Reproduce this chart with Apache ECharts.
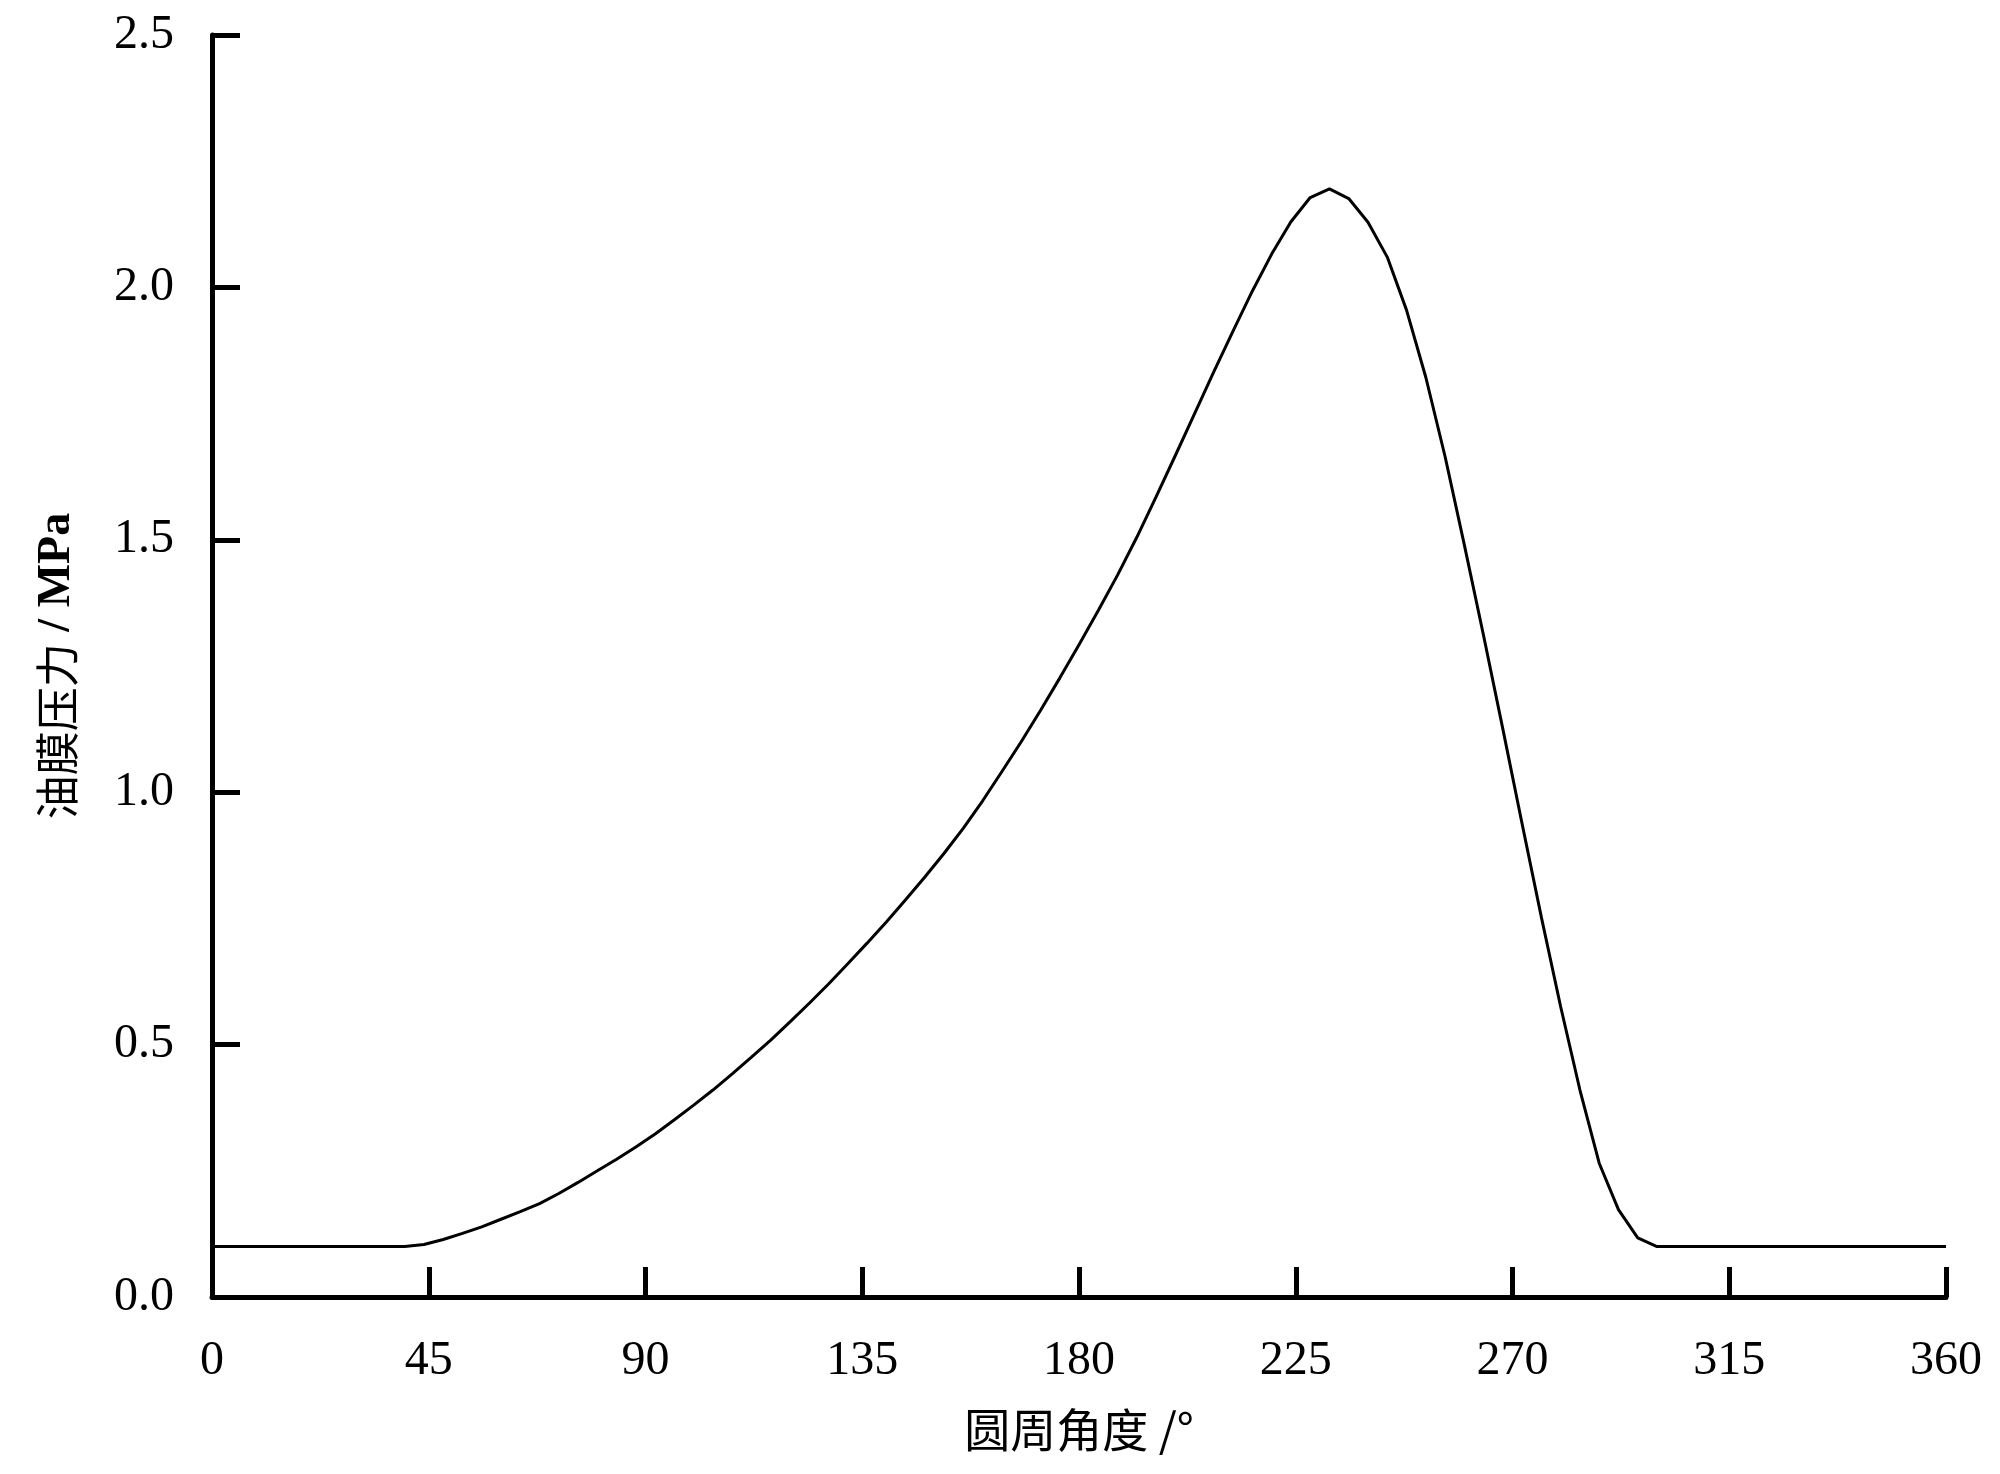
<!DOCTYPE html>
<html>
<head>
<meta charset="utf-8">
<script src="https://cdn.jsdelivr.net/npm/echarts@6/dist/echarts.min.js"></script>
<style>
html,body{margin:0;padding:0;background:#fff;}
#chart{width:2000px;height:1474px;}
</style>
</head>
<body>
<div id="chart"></div>
<script>
// Circumferential angle (°)
var angles = [0,4,8,12,16,20,24,28,32,36,40,44,48,52,56,60,64,68,72,76,80,84,88,92,96,100,
  104,108,112,116,120,124,128,132,136,140,144,148,152,156,160,164,168,172,176,180,184,188,192,196,200,
  204,208,212,216,220,224,228,232,236,240,244,248,252,256,260,264,268,272,276,280,284,288,292,296,300,
  304,308,312,316,320,324,328,332,336,340,344,348,352,356,360];
// Oil film pressure (MPa)
var pressures = [0.1,0.1,0.1,0.1,0.1,0.1,0.1,0.1,0.1,0.1,0.1,
  0.104,0.114,0.126,0.139,0.154,0.169,0.185,0.205,0.227,0.25,0.273,0.297,0.323,0.351,0.38,
  0.41,0.442,0.475,0.509,0.545,0.582,0.62,0.66,0.701,0.743,0.787,0.832,0.879,0.929,0.983,
  1.041,1.10,1.162,1.226,1.292,1.36,1.43,1.505,1.585,1.667,1.75,1.833,1.914,1.993,2.066,
  2.13,2.178,2.195,2.176,2.129,2.06,1.955,1.822,1.665,1.49,1.31,1.125,0.937,0.752,0.575,
  0.41,0.265,0.173,0.117,0.1,
  0.1,0.1,0.1,0.1,0.1,0.1,0.1,0.1,0.1,0.1,0.1,0.1,0.1,0.1,0.1];
var xTicks = [0,45,90,135,180,225,270,315,360];
var yTicks = [0.0,0.5,1.0,1.5,2.0,2.5];
var xName = '圆周角度 /°';
var yNameCn = '油膜压力';
var yNameUnit = ' / MPa';

var data = angles.map(function(a,i){return [a, pressures[i]];});

var chart = echarts.init(document.getElementById('chart'), null, {renderer:'canvas'});
var serif = '"Liberation Serif","DejaVu Serif",serif';
var cjk = '"Noto Sans CJK SC","Liberation Serif",serif';
chart.setOption({
  backgroundColor:'#ffffff',
  animation:false,
  grid:{left:212,right:54,top:35,bottom:177,containLabel:false},
  xAxis:{
    type:'value',min:xTicks[0],max:xTicks[xTicks.length-1],interval:45,
    name:xName,nameLocation:'middle',nameGap:110,
    nameTextStyle:{fontFamily:cjk,fontSize:46,color:'#000'},
    axisLine:{show:true,onZero:false,lineStyle:{color:'#000',width:5}},
    axisTick:{show:true,inside:true,length:30,lineStyle:{color:'#000',width:5}},
    axisLabel:{margin:40,fontFamily:serif,fontSize:48,color:'#000'},
    splitLine:{show:false}
  },
  yAxis:{
    type:'value',min:yTicks[0],max:yTicks[yTicks.length-1],interval:0.5,
    name:'{cn|'+yNameCn+'}{u|'+yNameUnit+'}',nameLocation:'middle',nameGap:132,nameRotate:90,
    nameTextStyle:{
      color:'#000',
      rich:{
        cn:{fontFamily:cjk,fontSize:44,color:'#000'},
        u:{fontFamily:serif,fontSize:46,fontWeight:'bold',color:'#000'}
      }
    },
    axisLine:{show:true,lineStyle:{color:'#000',width:5}},
    axisTick:{show:true,inside:true,length:28,lineStyle:{color:'#000',width:5}},
    axisLabel:{margin:38,fontFamily:serif,fontSize:48,color:'#000',
      formatter:function(v){return v.toFixed(1);}},
    splitLine:{show:false}
  },
  series:[{
    type:'line',data:data,showSymbol:false,smooth:false,
    lineStyle:{color:'#000',width:3},
    z:1
  }]
});
</script>
</body>
</html>
